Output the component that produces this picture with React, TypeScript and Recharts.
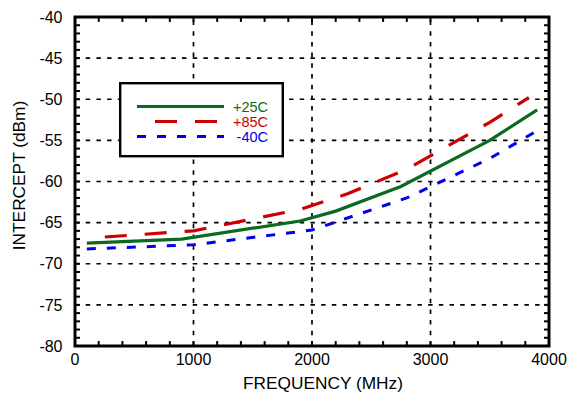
import React from 'react';
import { LineChart, Line, XAxis, YAxis, ReferenceLine, ReferenceArea, Legend } from 'recharts';

// ---- data ----
const FREQ_25 = [100, 900, 1900, 2200, 2750, 3500, 3900];
const INT_25 = [-67.5, -67.0, -64.8, -63.6, -60.6, -55.0, -51.3];

const FREQ_85 = [100, 1000, 1900, 2300, 2800, 3500, 3830];
const INT_85 = [-66.9, -66.0, -63.4, -61.5, -58.5, -52.8, -49.8];

const FREQ_M40 = [100, 1000, 2000, 2800, 3500, 3880];
const INT_M40 = [-68.2, -67.7, -65.9, -62.0, -57.2, -54.0];

const X_DOMAIN = [0, 4000];
const Y_DOMAIN = [-80, -40];
const X_MAJOR = [0, 1000, 2000, 3000, 4000];
const X_MINOR = [0, 200, 400, 600, 800, 1000, 1200, 1400, 1600, 1800, 2000, 2200, 2400, 2600, 2800, 3000, 3200, 3400, 3600, 3800, 4000];
const Y_MAJOR = [-80, -75, -70, -65, -60, -55, -50, -45, -40];
const Y_MINOR = [-80, -79, -78, -77, -76, -75, -74, -73, -72, -71, -70, -69, -68, -67, -66, -65, -64, -63, -62, -61, -60, -59, -58, -57, -56, -55, -54, -53, -52, -51, -50, -49, -48, -47, -46, -45, -44, -43, -42, -41, -40];

const GREEN = '#0b6a1f';
const RED = '#cc0000';
const BLUE = '#0000ee';

const build = (fs: number[], vs: number[]) => fs.map((f, i) => ({ f, v: vs[i] }));

const SERIES = [
  { key: 'p25', name: '+25C', color: GREEN, data: build(FREQ_25, INT_25), dash: undefined as string | undefined, offset: 0, width: 3.2 },
  { key: 'p85', name: '+85C', color: RED, data: build(FREQ_85, INT_85), dash: '22 18', offset: 22, width: 3.2 },
  { key: 'm40', name: '-40C', color: BLUE, data: build(FREQ_M40, INT_M40), dash: '9 11', offset: 0, width: 3 },
];

const FONT = '"Liberation Sans", Arial, Helvetica, sans-serif';

// tick mark lengths in data units (about 5 px)
const X_TICK_LEN = 42;
const Y_TICK_LEN = 0.6;

const LegendBox = () => (
  <svg width={165} height={76} style={{ display: 'block' }}>
    <rect x={1.2} y={1.2} width={162.6} height={73} fill="#fff" stroke="#000" strokeWidth={2.4} />
    {SERIES.map((s, i) => {
      const y = 24.5 + i * 15;
      return (
        <g key={s.key}>
          <line x1={18} x2={105} y1={y} y2={y} stroke={s.color} strokeWidth={s.width}
            strokeDasharray={s.dash} strokeDashoffset={s.offset} />
          <text x={149} y={y} textAnchor="end" dominantBaseline="central" fill={s.color}
            fontSize={14.5} fontFamily={FONT}>{s.name}</text>
        </g>
      );
    })}
  </svg>
);

const tickStyle = { fill: '#000', fontSize: 16, fontFamily: FONT };
const grid = { stroke: '#000', strokeWidth: 1.7, strokeDasharray: '4.5 6.2' };
const tickMark = { stroke: '#000', strokeWidth: 2 };

export default function App() {
  const xIn = X_MINOR.slice(1, -1);
  const yIn = Y_MINOR.slice(1, -1);
  return (
    <div style={{ position: 'absolute', left: 0, top: 0 }}>
      <LineChart width={571} height={400} margin={{ top: 17, right: 22, bottom: 0, left: 0 }}>
        <XAxis dataKey="f" type="number" domain={X_DOMAIN} allowDataOverflow
          ticks={X_MAJOR} interval={0} height={54} tickSize={-5} tickMargin={13}
          tick={tickStyle} tickLine={false} axisLine={false}
          label={{ value: 'FREQUENCY (MHz)', position: 'insideBottom', offset: 11, dx: 11, style: { fill: '#000', fontSize: 17.3, fontFamily: FONT } }} />
        <YAxis type="number" domain={Y_DOMAIN} allowDataOverflow
          ticks={Y_MAJOR} interval={0} width={75} tickSize={-5} tickMargin={17.5}
          tick={tickStyle} tickLine={false} axisLine={false}
          label={{ value: 'INTERCEPT (dBm)', angle: -90, position: 'insideLeft', offset: 19, dy: -6, style: { textAnchor: 'middle', fill: '#000', fontSize: 17.3, fontFamily: FONT } }} />

        {X_MAJOR.slice(1, -1).map((x) => (
          <ReferenceLine key={'vx' + x} x={x} {...grid} />
        ))}
        {Y_MAJOR.slice(1, -1).map((y) => (
          <ReferenceLine key={'hy' + y} y={y} {...grid} />
        ))}

        {xIn.map((x) => (
          <ReferenceLine key={'tb' + x} segment={[{ x, y: Y_DOMAIN[0] }, { x, y: Y_DOMAIN[0] + Y_TICK_LEN }]} {...tickMark} />
        ))}
        {xIn.map((x) => (
          <ReferenceLine key={'tt' + x} segment={[{ x, y: Y_DOMAIN[1] }, { x, y: Y_DOMAIN[1] - Y_TICK_LEN }]} {...tickMark} />
        ))}
        {yIn.map((y) => (
          <ReferenceLine key={'tl' + y} segment={[{ x: X_DOMAIN[0], y }, { x: X_DOMAIN[0] + X_TICK_LEN, y }]} {...tickMark} />
        ))}
        {yIn.map((y) => (
          <ReferenceLine key={'tr' + y} segment={[{ x: X_DOMAIN[1], y }, { x: X_DOMAIN[1] - X_TICK_LEN, y }]} {...tickMark} />
        ))}

        <ReferenceArea x1={X_DOMAIN[0]} x2={X_DOMAIN[1]} y1={Y_DOMAIN[0]} y2={Y_DOMAIN[1]}
          fill="none" fillOpacity={0} stroke="#000" strokeWidth={3} strokeOpacity={1} />

        {SERIES.map((s) => (
          <Line key={s.key} data={s.data} dataKey="v" name={s.name} type="linear"
            stroke={s.color} strokeWidth={s.width} strokeDasharray={s.dash} strokeDashoffset={s.offset}
            dot={false} activeDot={false} isAnimationActive={false} />
        ))}

        <Legend layout="horizontal" verticalAlign="middle" align="center" content={() => <LegendBox />}
          wrapperStyle={{ position: 'absolute', left: 119, top: 82, width: 165, height: 76 }} />
      </LineChart>
    </div>
  );
}
